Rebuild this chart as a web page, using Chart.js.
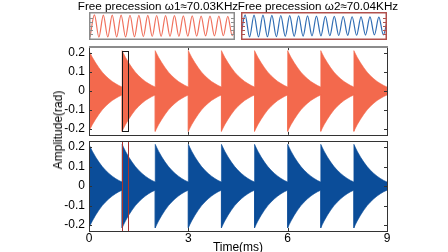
<!DOCTYPE html>
<html>
<head>
<meta charset="utf-8">
<script src="https://cdn.jsdelivr.net/npm/chart.js@4.4.1/dist/chart.umd.min.js"></script>
<style>
  html, body { margin: 0; padding: 0; background: #fff; }
  #wrap { position: relative; width: 448px; height: 252px; overflow: hidden;
          font-family: "Liberation Sans", Arial, sans-serif; color: #000; }
  canvas { position: absolute; }
  .lbl { position: absolute; font-size: 12px; line-height: 12px; white-space: nowrap; }
</style>
</head>
<body>
<div id="wrap">
  <canvas id="panelTop" width="448" height="110" style="left:0;top:36px"></canvas>
  <canvas id="panelBottom" width="448" height="122" style="left:0;top:130px"></canvas>
  <canvas id="insetRed" width="146" height="28" style="left:89px;top:12px"></canvas>
  <canvas id="insetBlue" width="146" height="28" style="left:241px;top:12px"></canvas>
  <div class="lbl" style="left:158px;top:0px;transform:translateX(-50%);font-size:11.7px">Free precession ω1≈70.03KHz</div>
  <div class="lbl" style="left:318px;top:0px;transform:translateX(-50%);font-size:11.7px">Free precession ω2≈70.04KHz</div>
  <div class="lbl" style="left:238px;top:241px;transform:translateX(-50%)">Time(ms)</div>
  <div class="lbl" style="left:58px;top:130px;transform:translate(-50%,-50%) rotate(-90deg)">Amplitude(rad)</div>
</div>
<script>
// axes
const timeTicks = [0, 3, 6, 9];
const ampTicks = [-0.2, -0.1, 0, 0.1, 0.2];

// one burst starts every millisecond
const burstStarts = [0, 1, 2, 3, 4, 5, 6, 7, 8];

// decay envelope of a single burst (ms after the pulse, amplitude in rad)
const envOffset = [0, 0.05, 0.1, 0.2, 0.3, 0.4, 0.5, 0.6, 0.7, 0.8, 0.9, 1.0];
const envRed = [0.212, 0.194, 0.177, 0.148, 0.122, 0.099, 0.08, 0.064, 0.05, 0.039, 0.029, 0.021];
const envBlue = [0.214, 0.196, 0.179, 0.149, 0.123, 0.1, 0.081, 0.065, 0.051, 0.039, 0.029, 0.021];

// zoomed window marked in both panels (ms)
const zoomWindow = [0.99, 1.18];

// alternating troughs / peaks of the zoomed free precession (normalised)
const insetRedExtremes = [
  -0.97, 0.97, -0.97, 0.96, -0.96, 0.96, -0.95, 0.95, -0.95, 0.94, -0.94,
  0.93, -0.93, 0.93, -0.92, 0.92, -0.91, 0.91, -0.9, 0.9, -0.9, 0.89,
  -0.89, 0.88, -0.88, 0.87, -0.87, 0.86, -0.86, 0.86, -0.85, 0.85, -0.85, 0.84
];
const insetBlueExtremes = [
  -0.97, 0.97, -0.96, 0.96, -0.95, 0.95, -0.94, 0.93, -0.93, 0.92, -0.91,
  0.91, -0.9, 0.89, -0.89, 0.88, -0.87, 0.87, -0.86, 0.85, -0.85, 0.84,
  -0.83, 0.83, -0.82, 0.81, -0.81, 0.8, -0.79, 0.79, -0.78, 0.78, -0.77, 0.77
];

const FONT = { family: "'Liberation Sans', Arial, sans-serif", size: 12 };

function envelopePoints(env, sign) {
  const pts = [];
  burstStarts.forEach((t0) => {
    envOffset.forEach((dt, i) => pts.push({ x: t0 + dt, y: sign * env[i] }));
  });
  return pts;
}

// box, inward ticks and zoom window of a main panel
const panelFrame = {
  id: "panelFrame",
  afterDatasetsDraw(chart, args, opts) {
    const { ctx, chartArea } = chart;
    const { left, right, top, bottom } = chartArea;
    const xs = chart.scales.x;
    const ys = chart.scales.y;
    ctx.save();

    // zoom window
    ctx.strokeStyle = opts.boxColor;
    ctx.lineWidth = 1;
    const bx0 = Math.round(xs.getPixelForValue(zoomWindow[0])) + 0.5;
    const bx1 = Math.round(xs.getPixelForValue(zoomWindow[1])) + 0.5;
    const by0 = Math.round(ys.getPixelForValue(opts.boxY[1])) + 0.5;
    const by1 = Math.round(ys.getPixelForValue(opts.boxY[0])) + 0.5;
    ctx.strokeRect(bx0, by0, bx1 - bx0, by1 - by0);

    ctx.strokeStyle = "#333";
    ctx.lineWidth = 1;
    ctx.beginPath();
    ampTicks.forEach((v) => {
      const y = Math.round(ys.getPixelForValue(v)) + 0.5;
      ctx.moveTo(left, y); ctx.lineTo(left + 3, y);
      ctx.moveTo(right, y); ctx.lineTo(right - 3, y);
    });
    timeTicks.forEach((v) => {
      const x = Math.round(xs.getPixelForValue(v)) + 0.5;
      ctx.moveTo(x, bottom); ctx.lineTo(x, bottom - 3);
      ctx.moveTo(x, top); ctx.lineTo(x, top + 3);
    });
    ctx.stroke();

    ctx.strokeRect(Math.round(left) + 0.5, Math.round(top) + 0.5,
      Math.round(right - left), Math.round(bottom - top));
    if (opts.topGray) {
      ctx.strokeStyle = "#8c8c8c";
      ctx.lineWidth = 2;
      ctx.beginPath();
      ctx.moveTo(left, Math.round(top));
      ctx.lineTo(right + 1, Math.round(top));
      ctx.stroke();
    }
    ctx.restore();
  },
};

// frame with small side ticks for the insets
const insetFrame = {
  id: "insetFrame",
  afterDraw(chart, args, opts) {
    const { ctx, width, height } = chart;
    ctx.save();
    ctx.strokeStyle = opts.color;
    ctx.lineWidth = 1.5;
    ctx.strokeRect(0.75, 0.75, width - 1.5, height - 1.5);
    ctx.lineWidth = 1;
    ctx.beginPath();
    [0.2, 0.35, 0.5, 0.65, 0.8].forEach((f) => {
      const y = Math.round(height * f) + 0.5;
      ctx.moveTo(1, y); ctx.lineTo(4, y);
      ctx.moveTo(width - 1, y); ctx.lineTo(width - 4, y);
    });
    ctx.stroke();
    ctx.restore();
  },
};

function makePanel(id, env, color, boxColor, boxY, showX, topGray) {
  const ds = (sign) => ({
    data: envelopePoints(env, sign),
    fill: "origin",
    backgroundColor: color,
    borderColor: color,
    borderWidth: 0.6,
    pointRadius: 0,
    tension: 0,
  });
  const xScale = {
    type: "linear",
    min: 0,
    max: 9,
    display: showX,
    afterBuildTicks: (s) => { s.ticks = timeTicks.map((v) => ({ value: v })); },
    grid: { display: false, drawTicks: false },
    border: { display: false },
    ticks: { padding: 0, font: FONT, color: "#000", maxRotation: 0 },
  };
  if (showX) xScale.afterFit = (s) => { s.height = 21; };
  return new Chart(document.getElementById(id), {
    type: "line",
    data: { datasets: [ds(1), ds(-1)] },
    options: {
      responsive: false,
      animation: false,
      layout: { padding: { top: 8, right: 61, bottom: showX ? 0 : 9, left: 0 } },
      plugins: {
        legend: { display: false },
        tooltip: { enabled: false },
        panelFrame: { boxColor, boxY, topGray },
      },
      scales: {
        x: xScale,
        y: {
          min: -0.23,
          max: 0.23,
          afterBuildTicks: (s) => { s.ticks = ampTicks.map((v) => ({ value: v })); },
          afterFit: (s) => { s.width = 89; },
          grid: { display: false, drawTicks: false },
          border: { display: false },
          ticks: { padding: 4, font: FONT, color: "#000", callback: (v) => String(v) },
        },
      },
    },
    plugins: [panelFrame],
  });
}

function makeInset(id, extremes, color, frameColor, xMin, xMax) {
  return new Chart(document.getElementById(id), {
    type: "line",
    data: {
      datasets: [{
        data: extremes.map((v, i) => ({ x: i, y: v })),
        borderColor: color,
        borderWidth: 1.2,
        pointRadius: 0,
        fill: false,
        cubicInterpolationMode: "monotone",
      }],
    },
    options: {
      responsive: false,
      animation: false,
      layout: { padding: { top: 2, bottom: 2, left: 1, right: 1 } },
      plugins: {
        legend: { display: false },
        tooltip: { enabled: false },
        insetFrame: { color: frameColor },
      },
      scales: {
        x: { type: "linear", display: false, min: xMin, max: xMax },
        y: { display: false, min: -1.05, max: 1.05 },
      },
    },
    plugins: [insetFrame],
  });
}

makePanel("panelTop", envRed, "#f3694d", "#1a1a1a", [-0.212, 0.21], false, true);
makePanel("panelBottom", envBlue, "#0b4d99", "#a8322d", [-0.23, 0.23], true, false);
makeInset("insetRed", insetRedExtremes, "#f0705c", "#8c8c8c", 0, 32.4);
makeInset("insetBlue", insetBlueExtremes, "#2f6cb3", "#b0504c", 0.3, 32.6);
</script>
</body>
</html>
